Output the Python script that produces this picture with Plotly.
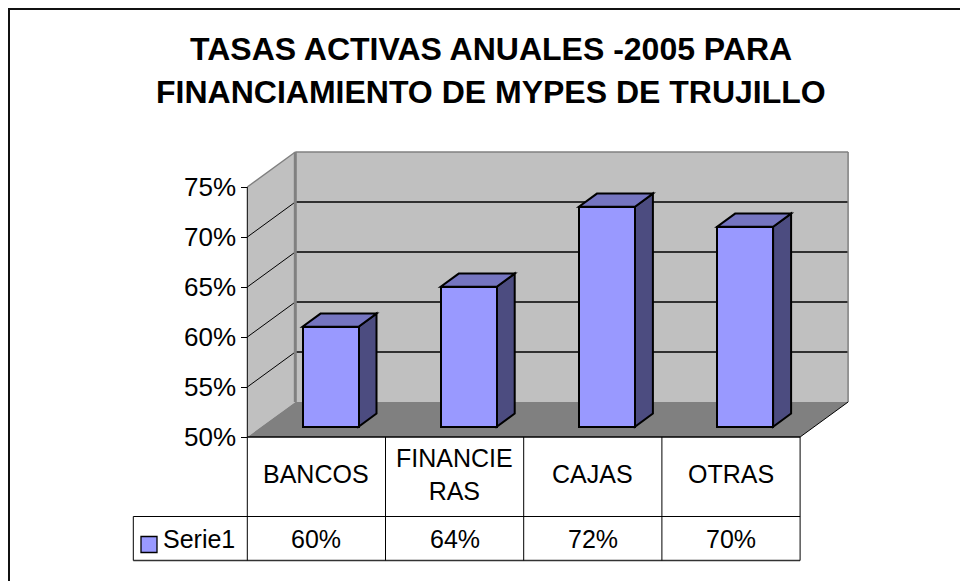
import plotly.graph_objects as go

# ---------------- data ----------------
categories = ["BANCOS", "FINANCIE<br>RAS", "CAJAS", "OTRAS"]
series_name = "Serie1"
values = [60, 64, 72, 70]
y_ticks = [50, 55, 60, 65, 70, 75]
y_tick_labels = [f"{t}%" for t in y_ticks]
title_lines = ["TASAS ACTIVAS ANUALES -2005 PARA",
               "FINANCIAMIENTO DE MYPES DE TRUJILLO"]

# ---------------- layout constants ----------------
W, H = 960, 581
FONT = "Liberation Sans, Arial, sans-serif"
X_LEFT_PX = 247.3      # left edge of front plane
CAT_PX = 138.2         # width of one category column
Y_BASE_PX = 437.0      # pixel of 50% on the front plane
PX_PER_UNIT = 10.0     # pixels per percentage point

Y0, Y1 = y_ticks[0], y_ticks[-1]
X0, X1 = -0.5, len(categories) - 0.5
DX = 48.0 / CAT_PX     # depth offset (x, data units)
DY = 35.0 / PX_PER_UNIT  # depth offset (y, data units)
F1, F2 = 0.294, 0.669  # bar front / back depth fraction
BAR_W = 0.405

C_WALL = "#C0C0C0"
C_FLOOR = "#808080"
C_EDGE = "#808080"
C_FRONT = "#9999FF"
C_TOP = "#7575C0"
C_SIDE = "#4C4C80"

x_range = [(0 - X_LEFT_PX) / CAT_PX - 0.5, (W - X_LEFT_PX) / CAT_PX - 0.5]
y_range = [Y0 - (H - Y_BASE_PX) / PX_PER_UNIT, Y0 + Y_BASE_PX / PX_PER_UNIT]


def px_x(px):
    return (px - X_LEFT_PX) / CAT_PX - 0.5


def px_y(px):
    return Y0 + (Y_BASE_PX - px) / PX_PER_UNIT


shapes = []


def poly(pts, fill, line_color=None, lw=0, layer="below"):
    path = "M " + " L ".join(f"{x},{y}" for x, y in pts) + " Z"
    shapes.append(dict(type="path", path=path, xref="x", yref="y",
                       fillcolor=fill, layer=layer,
                       line=dict(color=line_color or fill, width=lw)))


def seg(x0, y0, x1, y1, color="black", lw=1, layer="below"):
    shapes.append(dict(type="line", x0=x0, y0=y0, x1=x1, y1=y1,
                       xref="x", yref="y", layer=layer,
                       line=dict(color=color, width=lw)))


# walls and floor
poly([(X0, Y0), (X0, Y1), (X0 + DX, Y1 + DY), (X0 + DX, Y0 + DY)], C_WALL)
poly([(X0 + DX, Y0 + DY), (X0 + DX, Y1 + DY), (X1 + DX, Y1 + DY), (X1 + DX, Y0 + DY)], C_WALL)
for t in y_ticks[1:-1]:
    seg(X0 + DX, t + DY, X1 + DX, t + DY, "black", 1.3)
    seg(X0, t, X0 + DX, t + DY, "black", 1)
seg(X0 + DX, Y1 + DY, X1 + DX, Y1 + DY, C_EDGE, 1.5)
seg(X1 + DX, Y0 + DY, X1 + DX, Y1 + DY, C_EDGE, 1.5)
seg(X0, Y1, X0 + DX, Y1 + DY, C_EDGE, 1.5)
seg(X0 + DX, Y0 + DY, X0 + DX, Y1 + DY, C_EDGE, 3)
poly([(X0, Y0), (X1, Y0), (X1 + DX, Y0 + DY), (X0 + DX, Y0 + DY)], C_FLOOR)
seg(X1, Y0, X1 + DX, Y0 + DY, "black", 1)
seg(X0, Y0, X0, Y1, "black", 1)

# bars: positions from categories, heights from values
bar_x = [i + F1 * DX for i in range(len(categories))]
bar_base = Y0 + F1 * DY
d = F2 - F1
for xc, v in zip(bar_x, values):
    xl, xr = xc - BAR_W / 2, xc + BAR_W / 2
    yb, yt = bar_base, bar_base + (v - Y0)
    poly([(xr, yb), (xr, yt), (xr + d * DX, yt + d * DY), (xr + d * DX, yb + d * DY)],
         C_SIDE, "black", 2)
    poly([(xl, yt), (xr, yt), (xr + d * DX, yt + d * DY), (xl + d * DX, yt + d * DY)],
         C_TOP, "black", 2)

fig = go.Figure()
fig.add_trace(go.Bar(
    x=bar_x, y=[v - Y0 for v in values], base=[bar_base] * len(values),
    width=BAR_W, name=series_name,
    marker=dict(color=C_FRONT, line=dict(color="black", width=2)),
    customdata=[c.replace("<br>", "") for c in categories],
    hovertemplate="%{customdata}: " + "%{text}<extra></extra>",
    text=[f"{v}%" for v in values], textposition="none",
))

# ---------------- data table ----------------
ROW1_BOTTOM = px_y(516.5)
TABLE_BOTTOM = px_y(560.5)
LEG_LEFT = px_x(133.3)
seg(X0, Y0, X1, Y0, "black", 1.3, "above")
seg(LEG_LEFT, ROW1_BOTTOM, X1, ROW1_BOTTOM, "black", 1, "above")
seg(LEG_LEFT, TABLE_BOTTOM, X1, TABLE_BOTTOM, "#333333", 1.3, "above")
seg(LEG_LEFT, ROW1_BOTTOM, LEG_LEFT, TABLE_BOTTOM, "black", 1, "above")
for k in range(len(categories) + 1):
    seg(X0 + k, Y0, X0 + k, TABLE_BOTTOM, "black", 1, "above")

annotations = []
for i, (c, v) in enumerate(zip(categories, values)):
    annotations.append(dict(x=i, y=px_y(474), xref="x", yref="y", text=c,
                            showarrow=False, xanchor="center", yanchor="middle",
                            font=dict(family=FONT, size=25, color="black")))
    annotations.append(dict(x=i, y=px_y(539), xref="x", yref="y", text=f"{v}%",
                            showarrow=False, xanchor="center", yanchor="middle",
                            font=dict(family=FONT, size=25, color="black")))

# legend key
shapes.append(dict(type="rect", xref="x", yref="y",
                   x0=px_x(141), x1=px_x(157), y0=px_y(552.5), y1=px_y(536.5),
                   fillcolor=C_FRONT, line=dict(color="black", width=1.3), layer="above"))
annotations.append(dict(x=px_x(161), y=px_y(539), xref="x", yref="y", text=series_name,
                        showarrow=False, xanchor="left", yanchor="middle",
                        font=dict(family=FONT, size=25, color="black")))

# title
for line, ypx in zip(title_lines, [49, 92]):
    annotations.append(dict(x=491 / W, y=1 - ypx / H, xref="paper", yref="paper",
                            text=f"<b>{line}</b>", showarrow=False,
                            xanchor="center", yanchor="middle",
                            font=dict(family=FONT, size=32, color="black")))

# outer chart border
shapes.append(dict(type="rect", xref="paper", yref="paper",
                   x0=9 / W, x1=1.2, y0=-0.2, y1=1 - 9 / H,
                   line=dict(color="#111111", width=2), layer="above"))

fig.update_layout(
    width=W, height=H,
    margin=dict(l=0, r=0, t=0, b=0, pad=0),
    paper_bgcolor="white", plot_bgcolor="white",
    showlegend=False, bargap=0,
    shapes=shapes, annotations=annotations,
    xaxis=dict(range=x_range, domain=[0, 1], visible=False, fixedrange=True),
    yaxis=dict(range=y_range, domain=[0, 1], anchor="free", position=X_LEFT_PX / W,
               tickmode="array", tickvals=y_ticks, ticktext=y_tick_labels,
               ticks="outside", ticklen=6, tickcolor="black", tickwidth=1,
               showgrid=False, zeroline=False, showline=False, fixedrange=True,
               tickfont=dict(family=FONT, size=26, color="black")),
)

fig.write_html("out.html",
               config={"displayModeBar": False},
               post_script="document.body.style.margin='0px';"
                           "document.body.style.overflow='hidden';")
